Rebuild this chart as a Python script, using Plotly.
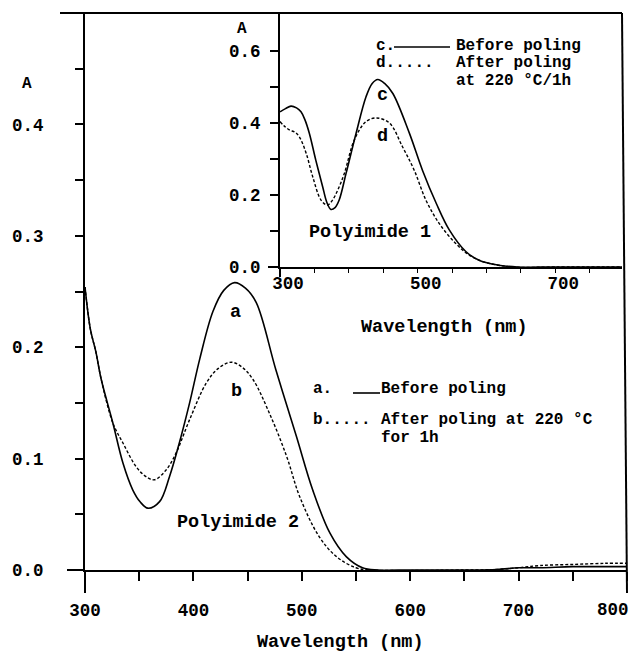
import plotly.graph_objects as go

# ---------------- data ----------------
# Main panel: Polyimide 2
p2_before_wl = [300, 305, 310, 315, 325.7, 335, 344, 351, 358, 368.8, 378, 387, 396.5, 406, 418,
                428, 438, 448, 458, 476, 495, 510, 526, 541, 556, 570, 600, 650, 680, 700, 720,
                750, 780, 800]
p2_before_A = [0.254, 0.216, 0.196, 0.171, 0.132, 0.096, 0.072, 0.061, 0.0555, 0.0614, 0.084,
               0.114, 0.150, 0.190, 0.232, 0.251, 0.258, 0.253, 0.240, 0.180, 0.120, 0.072,
               0.033, 0.012, 0.002, 0.0, 0.0, 0.0, 0.0005, 0.002, 0.002, 0.003, 0.003, 0.003]
p2_after_wl = [300, 305, 310, 315, 325.7, 335, 347, 356, 364, 375, 384, 396.5, 412, 423, 435,
               445, 455, 470, 486, 498, 516, 532, 550, 565, 650, 680, 700, 720, 750, 780, 800]
p2_after_A = [0.254, 0.216, 0.196, 0.171, 0.132, 0.114, 0.093, 0.084, 0.081, 0.090, 0.105,
              0.135, 0.168, 0.181, 0.1865, 0.182, 0.171, 0.141, 0.102, 0.066, 0.030, 0.012,
              0.002, 0.0, 0.0, 0.0005, 0.002, 0.004, 0.005, 0.006, 0.006]

# Inset: Polyimide 1
p1_before_wl = [300, 308, 316, 324, 330.5, 336, 342.7, 352, 362, 368, 374, 380, 386, 396, 410.5,
                425, 434, 442, 452, 464, 488, 507, 527, 546, 570, 590, 618, 645, 700, 797]
p1_before_A = [0.431, 0.440, 0.447, 0.442, 0.431, 0.410, 0.371, 0.297, 0.223, 0.180, 0.160,
               0.165, 0.186, 0.260, 0.371, 0.473, 0.510, 0.521, 0.510, 0.482, 0.372, 0.269,
               0.177, 0.103, 0.043, 0.018, 0.005, 0.0, 0.0, 0.0]
p1_after_wl = [300, 306, 313.6, 322, 328, 338, 347.5, 359.6, 369, 376, 384, 393.5, 408, 425, 440,
               459, 478, 495, 512, 531, 555, 575, 600, 640, 700, 797]
p1_after_A = [0.404, 0.392, 0.381, 0.374, 0.362, 0.316, 0.251, 0.186, 0.172, 0.185, 0.214, 0.260,
              0.353, 0.404, 0.414, 0.400, 0.334, 0.269, 0.186, 0.122, 0.066, 0.033, 0.012, 0.0,
              0.0, 0.0]

main_xtick_vals = [300, 350, 400, 450, 500, 550, 600, 650, 700, 750, 800]
main_xtick_text = ["300", "", "400", "", "500", "", "600", "", "700", "", "800"]
main_ytick_vals = [0.0, 0.05, 0.1, 0.15, 0.2, 0.25, 0.3, 0.35, 0.4, 0.45]
main_ytick_text = ["0.0", "", "0.1", "", "0.2", "", "0.3", "", "0.4", ""]
inset_xtick_vals = [300, 350, 400, 450, 500, 550, 600, 650, 700, 750]
inset_xtick_text = ["300", "", "", "", "500", "", "", "", "700", ""]
inset_ytick_vals = [0.0, 0.1, 0.2, 0.3, 0.4, 0.5, 0.6]
inset_ytick_text = ["0.0", "", "0.2", "", "0.4", "", "0.6"]

# ---------------- layout helpers ----------------
# the page body has an 8px margin, so the figure starts at (8, 8) in the window
OFF = 8
W, H = 633, 646
def px(x):
    return (x - OFF) / W
def py(y):
    return 1 - (y - OFF) / H

FONT = "Liberation Mono"
TXT = 18.5
LEG = 16
TICK = 17.5

fig = go.Figure()
solid = dict(color="black", width=1.6)
dotted = dict(color="black", width=1.4, dash="3px,2px")

fig.add_trace(go.Scatter(x=p2_before_wl, y=p2_before_A, mode="lines", line=solid,
                         line_shape="spline", xaxis="x", yaxis="y", showlegend=False))
fig.add_trace(go.Scatter(x=p2_after_wl, y=p2_after_A, mode="lines", line=dotted,
                         line_shape="spline", xaxis="x", yaxis="y", showlegend=False))
fig.add_trace(go.Scatter(x=p1_before_wl, y=p1_before_A, mode="lines", line=solid,
                         line_shape="spline", xaxis="x2", yaxis="y2", showlegend=False))
fig.add_trace(go.Scatter(x=p1_after_wl, y=p1_after_A, mode="lines", line=dotted,
                         line_shape="spline", xaxis="x2", yaxis="y2", showlegend=False))

axfont = dict(family=FONT, size=TICK, color="black", weight="bold")
common = dict(showgrid=False, zeroline=False, automargin=False, tickcolor="black",
              showline=True, linecolor="black", linewidth=2, tickfont=axfont, ticks="outside")

# the last main x label sits at the page edge: it is drawn on the same axis scale,
# nudged left so it stays inside the window
axis_xtext = main_xtick_text[:-1] + [""]

fig.update_layout(
    width=W, height=H,
    margin=dict(l=0, r=0, t=0, b=0, autoexpand=False),
    paper_bgcolor="white", plot_bgcolor="rgba(0,0,0,0)",
    font=dict(family=FONT, size=TXT, color="black", weight="bold"),
    xaxis=dict(domain=[px(85), px(627)], range=[300, 800],
               tickvals=main_xtick_vals, ticktext=axis_xtext, ticklen=9, tickwidth=1.5,
               ticklabelstandoff=14, anchor="y", **common),
    yaxis=dict(domain=[py(570), py(13)], range=[0, 0.5], tickvals=main_ytick_vals,
               ticktext=main_ytick_text, ticklen=8, tickwidth=1.5,
               ticklabelstandoff=28, anchor="x", **common),
    xaxis2=dict(domain=[px(280), px(622)], range=[300, 797], tickvals=inset_xtick_vals,
                ticktext=inset_xtick_text, ticklen=4, tickwidth=1.2,
                ticklabelstandoff=-5, ticklabelshift=8, anchor="y2", **common),
    yaxis2=dict(domain=[py(267), py(13)], range=[0, 0.7056], tickvals=inset_ytick_vals,
                ticktext=inset_ytick_text, ticklen=8, tickwidth=1.5,
                ticklabelstandoff=6, anchor="x2", **common),
)

fig.add_annotation(xref="x", yref="paper", x=main_xtick_vals[-1], y=py(610),
                   text=main_xtick_text[-1], showarrow=False, xanchor="center",
                   yanchor="middle", xshift=-14, borderpad=0, font=axfont)

# frame lines
def pline(x0, y0, x1, y1, w=2):
    fig.add_shape(type="line", xref="paper", yref="paper", x0=px(x0), y0=py(y0),
                  x1=px(x1), y1=py(y1), line=dict(color="black", width=w))

pline(60, 13, 622, 13, 2.2)      # top line
pline(622, 13, 627, 593, 2)      # right border
pline(85, 570, 85, 593, 2)       # main y axis extension below
pline(67, 570, 85, 570, 2)       # main x axis extension left
pline(280, 267, 280, 277, 2)     # inset y axis extension below
pline(268, 267, 280, 267, 2)     # inset x axis extension left
pline(394, 47, 450, 47, 1.6)     # inset legend line c
pline(353, 393, 380, 393, 1.6)   # main legend line a

def text(x, y, s, anchor="center", size=TXT):
    fig.add_annotation(xref="paper", yref="paper", x=px(x), y=py(y), text=s,
                       showarrow=False, xanchor=anchor, yanchor="middle", borderpad=0,
                       font=dict(family=FONT, size=size, color="black", weight="bold"))

text(27, 84, "A", size=16)
text(242, 29, "A", size=16)
text(375, 46, "c.", anchor="left", size=LEG)
text(455, 46, "Before poling", anchor="left", size=LEG)
text(375, 63.5, "d.....", anchor="left", size=LEG)
text(455, 63.5, "After poling", anchor="left", size=LEG)
text(455, 81, "at 220 °C/1h", anchor="left", size=LEG)
text(382, 95, "c")
text(382, 137, "d")
text(370, 232, "Polyimide 1")
text(444, 328, "Wavelength (nm)")
text(235, 312, "a")
text(236, 391, "b")
text(312, 389, "a.", anchor="left", size=LEG)
text(380, 389, "Before poling", anchor="left", size=LEG)
text(312, 420, "b.....", anchor="left", size=LEG)
text(380, 420, "After poling at 220 °C", anchor="left", size=LEG)
text(380, 437.5, "for 1h", anchor="left", size=LEG)
text(238, 522, "Polyimide 2")
text(340, 642, "Wavelength (nm)")

fig.write_html("out.html")
